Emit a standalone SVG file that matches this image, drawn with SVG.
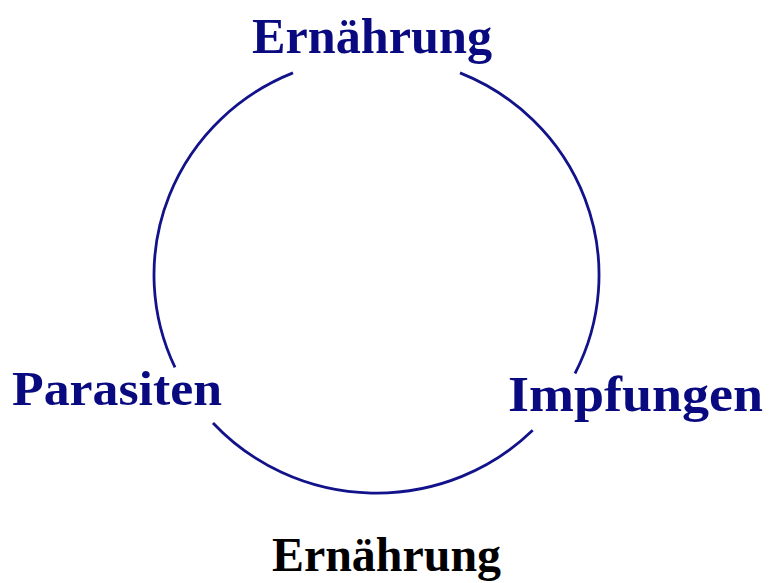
<svg xmlns="http://www.w3.org/2000/svg" width="770" height="583" viewBox="0 0 770 583">
<style>
.lbl{font-family:"Liberation Serif","Times New Roman",serif;font-weight:bold;fill:#0a0a80}
.arc{fill:none;stroke:#12128a;stroke-width:2.8;stroke-linecap:butt}
</style>
<rect width="770" height="583" fill="#ffffff"/>
<g id="connectors">
<path class="arc" d="M460,72.9 A222.5,218 0 0,1 575,373.5"/>
<path class="arc" d="M532.7,430.3 A222.5,218 0 0,1 213,423"/>
<path class="arc" d="M175,367.4 A222.5,218 0 0,1 293,72.9"/>
</g>
<g id="node-top">
<text class="lbl" x="252" y="53" font-size="51" textLength="240" lengthAdjust="spacingAndGlyphs">Ernährung</text>
</g>
<g id="node-left">
<text class="lbl" x="12" y="405" font-size="49" textLength="210" lengthAdjust="spacingAndGlyphs">Parasiten</text>
</g>
<g id="node-right">
<text class="lbl" x="508" y="411" font-size="51" textLength="255" lengthAdjust="spacingAndGlyphs">Impfungen</text>
</g>
<g id="caption">
<text x="272" y="571" font-size="48" textLength="229" lengthAdjust="spacingAndGlyphs" style="font-family:'Liberation Serif','Times New Roman',serif;font-weight:bold;fill:#000000">Ernährung</text>
</g>
</svg>
